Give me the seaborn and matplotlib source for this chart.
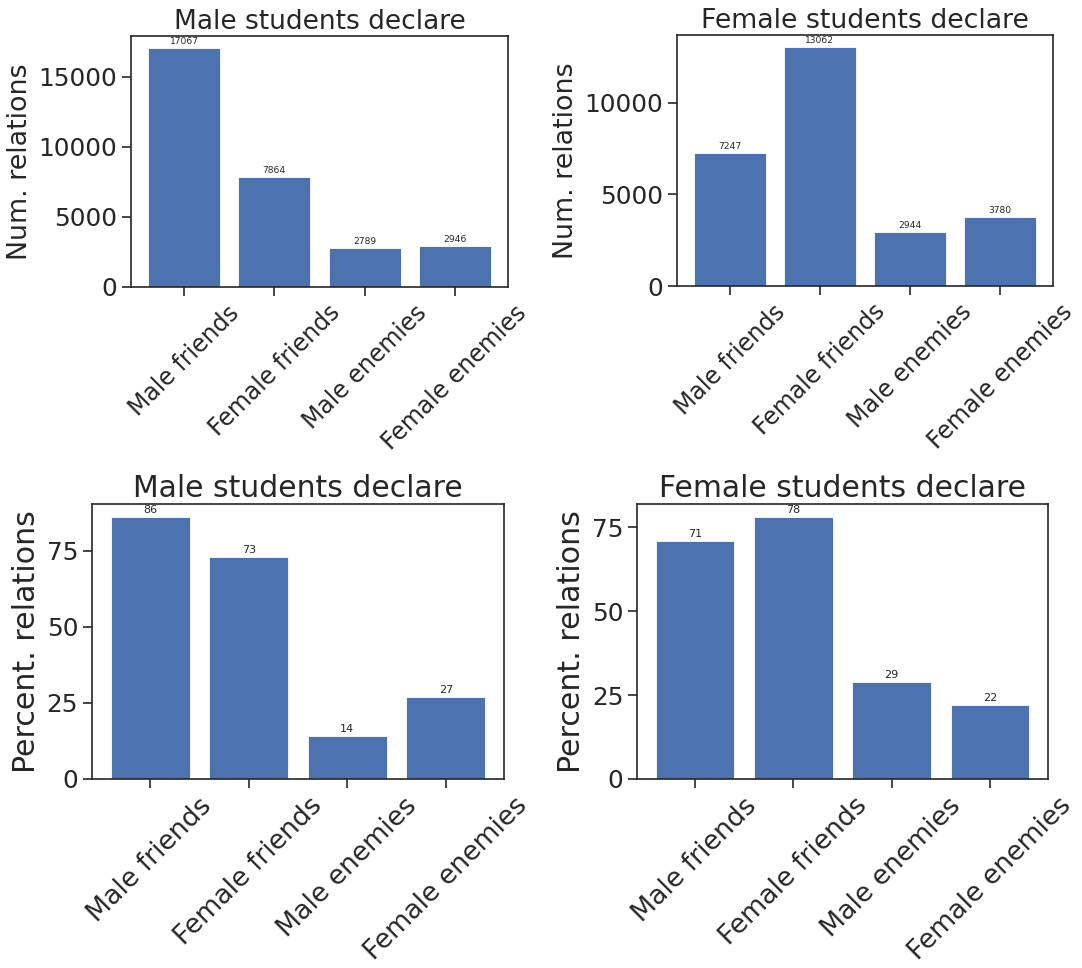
import matplotlib
matplotlib.use("Agg")
import matplotlib.pyplot as plt
from matplotlib.ticker import MultipleLocator
import seaborn as sns
import pandas as pd

# Relation categories shown on every panel
categories = ["Male friends", "Female friends", "Male enemies", "Female enemies"]

# Number of declared relations
male_counts = [17067, 7864, 2789, 2946]
female_counts = [7247, 13062, 2944, 3780]

# Share of declared relations (percent)
male_percent = [86, 73, 14, 27]
female_percent = [71, 78, 29, 22]

BAR_COLOR = "#4C72B0"
TEXT_COLOR = "#262626"

sns.set_theme(style="ticks")
plt.rcParams["font.family"] = ["DejaVu Sans"]
plt.rcParams["axes.edgecolor"] = TEXT_COLOR
plt.rcParams["axes.linewidth"] = 1.2
plt.rcParams["xtick.major.size"] = 6.5
plt.rcParams["ytick.major.size"] = 6.5
plt.rcParams["xtick.major.width"] = 1.2
plt.rcParams["ytick.major.width"] = 1.2
plt.rcParams["xtick.color"] = TEXT_COLOR
plt.rcParams["ytick.color"] = TEXT_COLOR
plt.rcParams["text.color"] = TEXT_COLOR
plt.rcParams["axes.labelcolor"] = TEXT_COLOR

fig = plt.figure(figsize=(10.82, 9.68), dpi=100)

W, H = 1082.0, 968.0


def rect(x0, x1, y0, y1):
    return [x0 / W, (H - y1) / H, (x1 - x0) / W, (y1 - y0) / H]


panels = [
    dict(rect=rect(131, 508, 36, 287), values=male_counts, title="Male students declare",
         ylabel="Num. relations", step=5000, title_fs=19, label_fs=19.4, xtick_fs=17,
         value_fs=6.6),
    dict(rect=rect(677, 1053, 35, 286), values=female_counts, title="Female students declare",
         ylabel="Num. relations", step=5000, title_fs=19.3, label_fs=19.4, xtick_fs=17,
         value_fs=6.6),
    dict(rect=rect(92, 504, 504, 779), values=male_percent, title="Male students declare",
         ylabel="Percent. relations", step=25, title_fs=21.5, label_fs=21.6, xtick_fs=19.3,
         value_fs=8),
    dict(rect=rect(637, 1048, 504, 779), values=female_percent, title="Female students declare",
         ylabel="Percent. relations", step=25, title_fs=21.5, label_fs=21.6, xtick_fs=19.3,
         value_fs=8),
]

for p in panels:
    ax = fig.add_axes(p["rect"])
    df = pd.DataFrame({"category": categories, "value": p["values"]})
    sns.barplot(data=df, x="category", y="value", color=BAR_COLOR, saturation=1,
                width=0.8, edgecolor="white", linewidth=0.6, ax=ax)
    n = len(categories)
    span = (n - 1) + 0.8
    pad = 0.05 * span
    ax.set_xlim(-0.4 - pad, n - 1 + 0.4 + pad)
    ax.set_ylim(0, max(p["values"]) * 1.05)
    ax.yaxis.set_major_locator(MultipleLocator(p["step"]))
    for i, v in enumerate(p["values"]):
        ax.annotate(f"{v}", xy=(i, v), xytext=(0, 1.5), textcoords="offset points",
                    ha="center", va="bottom", fontsize=p["value_fs"], color=TEXT_COLOR)
    ax.set_title(p["title"], fontsize=p["title_fs"], pad=5)
    ax.set_xlabel("")
    ax.set_ylabel(p["ylabel"], fontsize=p["label_fs"])
    ax.tick_params(axis="y", labelsize=17.8, pad=3.4)
    ax.tick_params(axis="x", labelsize=p["xtick_fs"], pad=3.4)
    plt.setp(ax.get_xticklabels(), rotation=45, ha="center")
    for s in ax.spines.values():
        s.set_visible(True)

fig.savefig("out.png", dpi=100)
